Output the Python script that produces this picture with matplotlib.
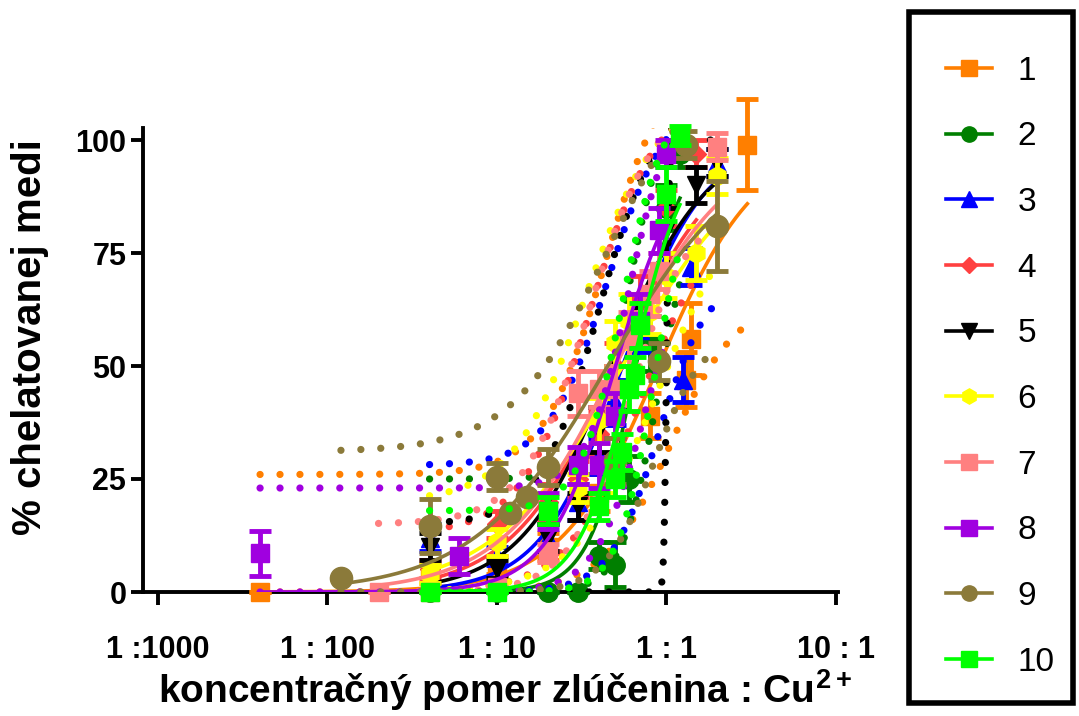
import numpy as np
import matplotlib
matplotlib.use("Agg")
import matplotlib.pyplot as plt
from matplotlib.lines import Line2D
from matplotlib.patches import Rectangle

plt.rcParams['font.family'] = ['Liberation Sans', 'DejaVu Sans']
plt.rcParams['mathtext.fontset'] = 'custom'
plt.rcParams['mathtext.rm'] = 'Liberation Sans:bold'
plt.rcParams['mathtext.it'] = 'Liberation Sans:bold'
plt.rcParams['mathtext.bf'] = 'Liberation Sans:bold'

# ---------------- data ----------------
labels = ['1', '2', '3', '4', '5', '6', '7', '8', '9', '10']
colors = ['#FF7F00', '#007F00', '#0000FF', '#FF4040', '#000000',
          '#FFFF00', '#FF8080', '#A000E0', '#8B7A3A', '#00FF00']
markers = ['s', 'o', '^', 'D', 'v', 'h', 's', 's', 'o', 's']

x1 = [0.004, 0.04, 0.1, 0.2, 0.4, 0.8, 1.3, 1.4, 3.0]
y1 = [0, 4, 6, 10, 22, 39, 47, 56, 99]
e1 = [0, 2, 2, 3, 4, 5, 6, 8, 10]

x2 = [0.04, 0.1, 0.2, 0.3, 0.4, 0.5, 0.6, 0.8, 1.0, 1.2]
y2 = [0, 0, 0, 0, 8, 6, 25, 55, 85, 97]
e2 = [0, 0, 0, 0, 3, 5, 5, 6, 5, 3]

x3 = [0.04, 0.1, 0.2, 0.3, 0.4, 0.5, 0.7, 1.25, 1.4, 2.0]
y3 = [12, 8, 12, 20, 30, 42, 58, 47, 72, 95]
e3 = [3, 2, 3, 4, 4, 5, 5, 5, 4, 3]

x4 = [0.04, 0.1, 0.2, 0.3, 0.4, 0.5, 0.7, 1.0, 1.5]
y4 = [5, 15, 20, 25, 35, 50, 65, 85, 97]
e4 = [2, 3, 4, 4, 5, 5, 5, 4, 3]

x5 = [0.04, 0.1, 0.2, 0.3, 0.4, 0.5, 0.7, 1.0, 1.5, 2.0]
y5 = [10, 5, 12, 19, 36, 45, 60, 80, 90, 95]
e5 = [3, 2, 3, 3, 5, 5, 6, 5, 4, 3]

x6 = [0.04, 0.1, 0.3, 0.4, 0.5, 0.6, 0.8, 1.0, 1.5, 2.0]
y6 = [4, 11, 23, 38, 55, 60, 62, 70, 75, 92]
e6 = [2, 3, 3, 5, 5, 6, 5, 5, 6, 4]

x7 = [0.02, 0.04, 0.1, 0.2, 0.3, 0.4, 0.5, 0.6, 0.8, 0.9, 2.0]
y7 = [0, 0, 1, 8.6, 44, 45, 45, 56, 66, 71, 98.5]
e7 = [0, 0, 0, 2, 5, 4, 5, 6, 5, 4, 3]

x8 = [0.004, 0.06, 0.2, 0.3, 0.4, 0.5, 0.7, 0.9, 1.0]
y8 = [8.6, 8, 18, 28, 28, 39, 60, 80, 97]
e8 = [5, 4, 4, 4, 5, 5, 6, 5, 3]

x9 = [0.012, 0.04, 0.1, 0.12, 0.15, 0.2, 0.5, 0.9, 1.3, 2.0]
y9 = [3, 14.6, 25.5, 17.5, 21, 27.7, 29, 51, 99, 81]
e9 = [0, 6, 3, 0, 0, 4, 5, 4, 3, 10]

x10 = [0.04, 0.1, 0.2, 0.4, 0.5, 0.55, 0.6, 0.65, 0.7, 1.0, 1.2]
y10 = [0, 0, 18, 19, 25, 31, 45, 48, 59, 88, 101]
e10 = [0, 0, 3, 3, 4, 4, 5, 4, 5, 6, 2]

xs = [x1, x2, x3, x4, x5, x6, x7, x8, x9, x10]
ys = [y1, y2, y3, y4, y5, y6, y7, y8, y9, y10]
es = [e1, e2, e3, e4, e5, e6, e7, e8, e9, e10]

# fitted 4-parameter logistic: (bottom, top, EC50, Hill)
fit_curve = [(0, 100, 0.9, 1.5), (0, 100, 0.66, 3.2), (0, 100, 0.55, 1.8),
             (0, 100, 0.5, 1.4), (0, 100, 0.48, 1.6), (0, 100, 0.55, 1.15),
             (0, 100, 0.5, 1.3), (0, 100, 0.5, 2.2), (0, 100, 0.45, 1.1),
             (0, 100, 0.63, 2.78)]
band_upper = [(26, 120, 0.435, 2.36), (25, 110, 0.6, 4.0), (28, 110, 0.45, 2.5),
              (13, 110, 0.35, 2.2), (15, 110, 0.4, 2.5), (20, 110, 0.33, 2.0),
              (15, 110, 0.35, 2.2), (23, 110, 0.6, 3.5), (31, 120, 0.45, 1.53),
              (18, 110, 0.55, 3.5)]
band_lower = [(0, 65, 1.05, 2.2), (0, 90, 0.9, 4.0), (0, 70, 0.9, 3.0),
              (0, 85, 0.7, 2.0), (0, 100, 1.0, 60.0), (0, 90, 0.9, 1.8),
              (0, 85, 0.6, 2.5), (0, 80, 0.75, 3.0), (0, 58, 0.85, 3.0),
              (0, 95, 0.85, 4.0)]

xtick_vals = [0.001, 0.01, 0.1, 1, 10]
xtick_labels = ['1 :1000', '1 : 100', '1 : 10', '1 : 1', '10 : 1']
ytick_vals = [0, 25, 50, 75, 100]


def four_pl(x, p):
    b, t, ec, h = p
    return b + (t - b) / (1.0 + (ec / x) ** h)


# ---------------- figure ----------------
W, H = 1079, 716
fig = plt.figure(figsize=(W / 100, H / 100), dpi=100)
ax = fig.add_axes([143 / W, 1 - 592 / H, (838 - 143) / W, (592 - 128) / H])
ax.set_xscale('log')
ax.set_xlim(10 ** -3.0885, 10 ** 1.012)
ax.set_ylim(0, 100 * (592 - 128) / (592 - 140))

for i in range(10):
    c = colors[i]
    xa = np.array(xs[i], float)
    ya = np.array(ys[i], float)
    ea = np.array(es[i], float)
    xx = np.logspace(np.log10(xa.min()), np.log10(xa.max()), 600)
    ms = 14 if markers[i] in ('o', 'h') else 13
    if markers[i] == 'D':
        ms = 10
    if i == 8:
        ms = 16
    eb = ax.errorbar(xa, ya, yerr=ea, fmt=markers[i], color=c, ms=ms,
                     mec=c, elinewidth=3.5, capsize=8, capthick=3.5,
                     zorder=3 + i * 0.1, clip_on=False)
    for art in eb.get_children():
        art.set_clip_on(False)
    ax.plot(xx, four_pl(xx, fit_curve[i]), color=c, lw=2.6, zorder=3 + i * 0.1)
    for band in (band_upper[i], band_lower[i]):
        ax.plot(xx, four_pl(xx, band), color=c, lw=5.2,
                linestyle=(0, (0.01, 2.75)), dash_capstyle='round',
                zorder=3 + i * 0.1)

for side in ('top', 'right'):
    ax.spines[side].set_visible(False)
for side in ('left', 'bottom'):
    ax.spines[side].set_linewidth(2.8)
ax.set_xticks(xtick_vals)
ax.set_xticklabels(xtick_labels)
ax.xaxis.set_minor_locator(matplotlib.ticker.NullLocator())
ax.set_yticks(ytick_vals)
ax.tick_params(axis='both', width=2.8, length=9, labelsize=22)
ax.tick_params(axis='x', pad=22)
ax.tick_params(axis='y', pad=3)
for lab in ax.get_xticklabels() + ax.get_yticklabels():
    lab.set_fontweight('bold')

fig.text(30 / W, 1 - 337 / H, '% chelatovanej medi', rotation=90,
         ha='center', va='center', fontsize=29, fontweight='bold')
fig.text(505 / W, 1 - 690 / H, 'koncentračný pomer zlúčenina : Cu$^{2+}$',
         ha='center', va='center', fontsize=28, fontweight='bold')

# legend
handles = [Line2D([0], [0], color=colors[i], marker=markers[i], lw=2.6,
                  ms=(11 if markers[i] != 'D' else 8), mec=colors[i])
           for i in range(10)]
fig.legend(handles, labels, loc='upper left',
           bbox_to_anchor=(929 / W, 1 - 39 / H), frameon=False,
           fontsize=24, handlelength=1.4, handletextpad=0.75,
           labelspacing=1.04, borderpad=0)
fig.patches.append(Rectangle((909 / W, 1 - 703 / H), (1073 - 909) / W,
                             (703 - 12) / H, transform=fig.transFigure,
                             fill=False, lw=4, edgecolor='black'))

fig.savefig('out.png', dpi=100)
